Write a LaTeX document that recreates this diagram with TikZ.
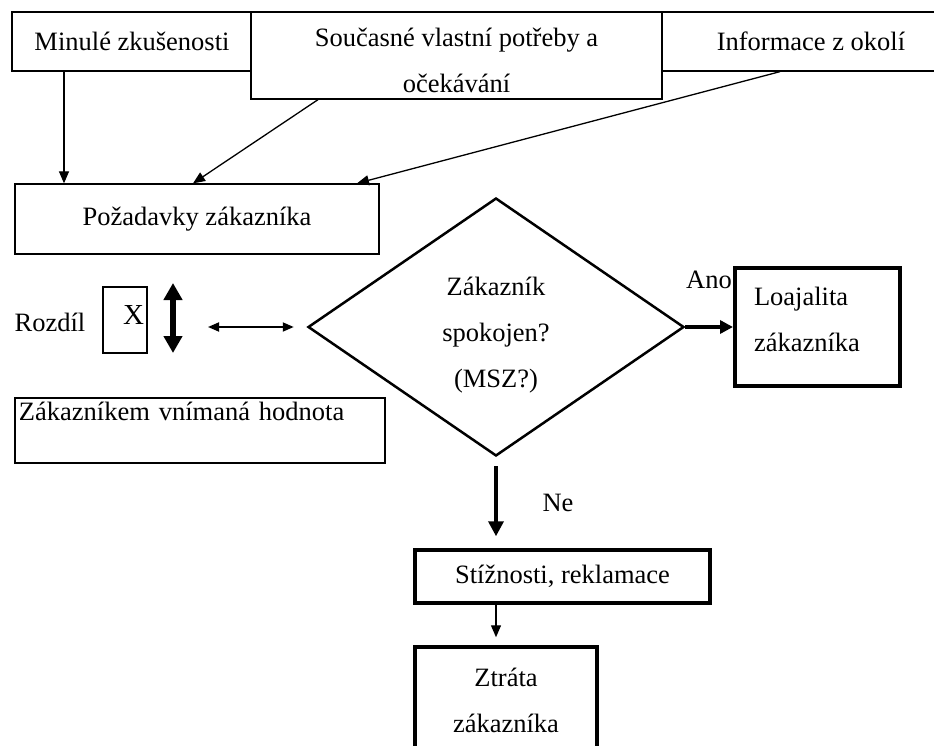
\documentclass[tikz,border=0pt]{standalone}
\usepackage{fontspec}
\setmainfont{Liberation Serif}
\usetikzlibrary{arrows.meta,shapes.geometric}

\begin{document}
\begin{tikzpicture}[x=1pt,y=-1pt,
    every node/.style={font=\fontsize{26.5}{46}\selectfont},
    box/.style={draw,line width=1.3pt,fill=white,inner sep=0pt,align=center},
    boldbox/.style={box,line width=4pt},
    arr/.style={line width=1.3pt,-{Triangle[length=12pt,width=10pt]}}]
    \useasboundingbox (0,0) rectangle (934,746);

    % Vstupy
    \node[box,minimum width=240pt,minimum height=59pt] (minule) at (132,41.5) {Minulé zkušenosti};
    \node[box,minimum width=298pt,minimum height=59pt] (info) at (811,41.5) {Informace z okolí};
    \node[box,minimum width=411pt,text height=81pt,text depth=6pt] (soucasne) at (456.5,55.5) {Současné vlastní potřeby a\\očekávání};

    % Pozadavky
    \node[box,minimum width=364pt,minimum height=70pt] (pozad) at (197,219) {Požadavky zákazníka};
    \draw[arr] ([xshift=-68pt]minule.south) -- ([xshift=-133pt]pozad.north);
    \draw[arr] ([xshift=-138.5pt]soucasne.south) -- ([xshift=-4pt]pozad.north);
    \draw[arr] ([xshift=-31pt]info.south) -- ([xshift=160pt]pozad.north);

    % Rozdil
    \node (rozdil) at (50,322) {Rozdíl};
    \node[box,minimum width=44pt,text width=38pt,align=right,inner xsep=3pt,text height=37pt,text depth=29pt] (xbox) at (125,320) {\fontsize{29}{46}\selectfont X};
    \coordinate (gapO) at (173,283);
    \coordinate (gapU) at (173,353);
    \draw[line width=6pt,{Triangle[length=17pt,width=18pt]}-{Triangle[length=17pt,width=18pt]}] (gapO) -- (gapU);
    \node[box,minimum width=370pt,text width=362pt,align=left,inner xsep=4pt,text height=22pt,text depth=43pt] (hodnota) at (200,430.5) {Zákazníkem vnímaná hodnota};

    % Rozhodnuti
    \node[draw,diamond,line width=2.5pt,minimum width=376pt,minimum height=258pt,inner sep=0pt,align=center,text height=126pt,text depth=6pt] (spok) at (496,327) {Zákazník\\spokojen?\\(MSZ?)};
    \coordinate (cmp) at (208,327);
    \draw[line width=1.8pt,{Triangle[length=11pt,width=9pt]}-{Triangle[length=11pt,width=9pt]},shorten >=13pt] (cmp) -- (spok.west);

    % Ano
    \node[boldbox,minimum width=165pt,minimum height=118pt,text width=127pt,align=left,inner xsep=19pt,text height=18pt,text depth=62pt] (loajal) at (817.5,327) {Loajalita\\zákazníka};
    \draw[line width=3.5pt,-{Triangle[length=13pt,width=13pt]}] (spok.east) -- (loajal.west);
    \node (ano) at (709,280) {Ano};

    % Ne
    \node[boldbox,line width=3.5pt,minimum width=295pt,minimum height=53pt] (stiz) at (562.5,576.5) {Stížnosti, reklamace};
    \draw[line width=3.5pt,-{Triangle[length=15pt,width=15pt]},shorten <=9pt,shorten >=12pt] (spok.south) -- (spok.south |- stiz.north);
    \node (ne) at (558,503) {Ne};
    \node[boldbox,line width=3.5pt,minimum width=182pt,minimum height=110pt,text height=66pt,text depth=6pt] (ztrata) at (506,702) {Ztráta\\zákazníka};
    \draw[arr,shorten >=8pt] (spok.south |- stiz.south) -- (spok.south |- ztrata.north);
\end{tikzpicture}
\end{document}
